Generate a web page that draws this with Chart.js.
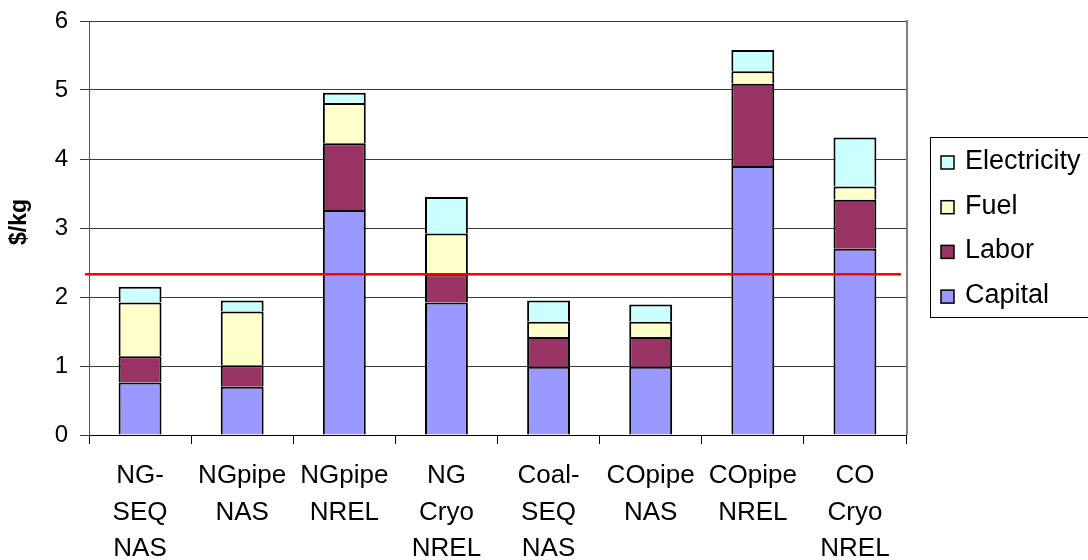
<!DOCTYPE html>
<html>
<head>
<meta charset="utf-8">
<title>Hydrogen delivery cost</title>
<script src="https://cdn.jsdelivr.net/npm/chart.js@4/dist/chart.umd.min.js"></script>
<style>
  html, body { margin: 0; padding: 0; background: #ffffff; }
  #wrap { width: 1088px; height: 560px; position: relative; }
</style>
</head>
<body>
<div id="wrap"><canvas id="c" width="1088" height="560"></canvas></div>
<script>
// Delivery pathways (multi-line axis labels)
const categories = [
  ['NG-', 'SEQ', 'NAS'],
  ['NGpipe', 'NAS'],
  ['NGpipe', 'NREL'],
  ['NG', 'Cryo', 'NREL'],
  ['Coal-', 'SEQ', 'NAS'],
  ['COpipe', 'NAS'],
  ['COpipe', 'NREL'],
  ['CO', 'Cryo', 'NREL']
];

// Cost components, $/kg
const capital     = [0.76, 0.70, 3.26, 1.92, 0.99, 0.99, 3.90, 2.70];
const labor       = [0.38, 0.31, 0.97, 0.41, 0.43, 0.43, 1.19, 0.71];
const fuel        = [0.78, 0.78, 0.58, 0.59, 0.22, 0.22, 0.18, 0.19];
const electricity = [0.23, 0.16, 0.15, 0.53, 0.31, 0.25, 0.31, 0.71];

// Reference cost level drawn as a horizontal red line
const targetCost = 2.33;

const yMin = 0, yMax = 6, yStep = 1;
const yTitle = '$/kg';

const FONT = '"Liberation Sans", Arial, Helvetica, sans-serif';

// Grey frame on the right side of the plot area
const frameRight = {
  id: 'frameRight',
  beforeDatasetsDraw(chart) {
    const { ctx, chartArea: a } = chart;
    ctx.save();
    ctx.strokeStyle = '#808080';
    ctx.lineWidth = 2;
    ctx.beginPath();
    ctx.moveTo(a.right + 1, a.top - 1);
    ctx.lineTo(a.right + 1, a.bottom);
    ctx.stroke();
    ctx.restore();
  }
};

// Horizontal target line across the plot, over the bars
const targetLine = {
  id: 'targetLine',
  afterDatasetsDraw(chart) {
    const { ctx, chartArea: a, scales } = chart;
    const y = scales.y.getPixelForValue(targetCost);
    ctx.save();
    ctx.strokeStyle = '#ff0000';
    ctx.lineWidth = 2.5;
    ctx.beginPath();
    ctx.moveTo(a.left - 4, y);
    ctx.lineTo(a.right - 5, y);
    ctx.stroke();
    ctx.restore();
  }
};

// Rotated y-axis title and boxed legend on the right
const sideTexts = {
  id: 'sideTexts',
  afterDraw(chart) {
    const { ctx } = chart;
    ctx.save();
    // y title
    ctx.translate(20, 222);
    ctx.rotate(-Math.PI / 2);
    ctx.font = 'bold 23px ' + FONT;
    ctx.fillStyle = '#000';
    ctx.textAlign = 'center';
    ctx.textBaseline = 'middle';
    ctx.fillText(yTitle, 0, 0);
    ctx.restore();

    // legend box
    ctx.save();
    ctx.strokeStyle = '#000';
    ctx.lineWidth = 1;
    ctx.strokeRect(930.5, 137.5, 300, 180);
    const items = chart.data.datasets.slice().reverse();
    ctx.font = '27px ' + FONT;
    ctx.textBaseline = 'alphabetic';
    ctx.textAlign = 'left';
    items.forEach((ds, i) => {
      const base = 169 + i * 44.7;
      ctx.fillStyle = ds.backgroundColor;
      ctx.fillRect(941, base - 13, 13, 13);
      ctx.lineWidth = 1.5;
      ctx.strokeStyle = '#000';
      ctx.strokeRect(941, base - 13, 13, 13);
      ctx.fillStyle = '#000';
      ctx.fillText(ds.label, 965, base);
    });
    ctx.restore();
  }
};

const barStyle = {
  borderColor: '#000000',
  borderWidth: 2,
  barPercentage: 0.42,
  categoryPercentage: 1.0
};

new Chart(document.getElementById('c'), {
  type: 'bar',
  data: {
    labels: categories,
    datasets: [
      { label: 'Capital',     data: capital,     backgroundColor: '#9999ff', ...barStyle },
      { label: 'Labor',       data: labor,       backgroundColor: '#993366', ...barStyle },
      { label: 'Fuel',        data: fuel,        backgroundColor: '#ffffcc', ...barStyle },
      { label: 'Electricity', data: electricity, backgroundColor: '#ccffff', ...barStyle }
    ]
  },
  options: {
    responsive: false,
    animation: false,
    devicePixelRatio: 1,
    layout: { padding: { top: 21, right: 182, left: 0, bottom: 0 } },
    plugins: {
      legend: { display: false },
      tooltip: { enabled: false },
      title: { display: false }
    },
    scales: {
      x: {
        stacked: true,
        grid: {
          offset: true,
          drawOnChartArea: false,
          drawTicks: true,
          tickLength: 9,
          color: '#000000',
          lineWidth: 1
        },
        border: { color: '#000000', width: 1 },
        ticks: {
          color: '#000000',
          font: { family: FONT, size: 26, lineHeight: 1.42 },
          padding: 13,
          maxRotation: 0,
          autoSkip: false
        },
        afterFit(scale) {
          scale.height = 125;
          scale.paddingLeft = 0;
          scale.paddingRight = 0;
        }
      },
      y: {
        stacked: true,
        min: yMin,
        max: yMax,
        grid: {
          color: '#3a3a3a',
          lineWidth: 1,
          tickLength: 9,
          drawTicks: true
        },
        border: { color: '#555555', width: 1 },
        ticks: {
          stepSize: yStep,
          color: '#000000',
          font: { family: FONT, size: 24 },
          padding: 12
        },
        afterFit(scale) {
          scale.width = 89;
          scale.paddingTop = 0;
          scale.paddingBottom = 0;
        }
      }
    }
  },
  plugins: [frameRight, targetLine, sideTexts]
});
</script>
</body>
</html>
